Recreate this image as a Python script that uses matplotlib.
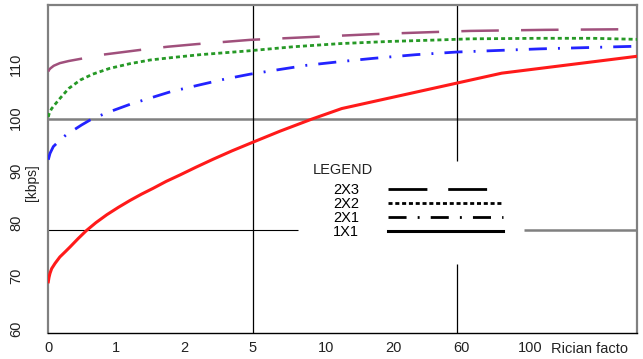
import numpy as np
import matplotlib.pyplot as plt
import matplotlib.transforms as mtransforms
from matplotlib.lines import Line2D

plt.rcParams['font.family'] = ['Liberation Sans', 'DejaVu Sans']
plt.rcParams['lines.scale_dashes'] = False

# x axis is categorical (Rician factor), curves are given in category-index units
rician = ['0', '1', '2', '5', '10', '20', '60', '100']
y_ticks = [60, 70, 80, 90, 100, 110]

x_1x1 = [0, 0.01, 0.025, 0.05, 0.1, 0.17, 0.25, 0.32, 0.44, 0.56, 0.7, 0.86, 1.03, 1.2,
         1.37, 1.54, 1.73, 1.93, 2.17, 2.42, 2.7, 3.0, 3.4, 3.87, 4.31, 6.66, 8.65]
y_1x1 = [68.9, 69.7, 70.5, 71.4, 72.4, 73.6, 74.6, 75.5, 77.1, 78.6, 80.1, 81.6, 83.0, 84.3,
         85.5, 86.6, 87.9, 89.1, 90.6, 92.1, 93.7, 95.3, 97.4, 99.7, 101.7, 108.4, 111.6]

x_2x1 = [0, 0.025, 0.074, 0.17, 0.26, 0.37, 0.49, 0.61, 0.73, 0.86, 1.2, 1.4, 1.8, 2.23,
         2.6, 2.96, 3.4, 3.8, 4.3, 4.77, 5.4, 6.0, 7.22, 8.65]
y_2x1 = [92.0, 93.2, 94.5, 95.7, 96.7, 97.6, 98.6, 99.5, 100.2, 100.9, 102.5, 103.3, 104.9, 106.2,
         107.3, 108.2, 109.1, 109.9, 110.6, 111.2, 111.9, 112.4, 113.0, 113.5]

x_2x2 = [0, 0.01, 0.025, 0.05, 0.1, 0.17, 0.3, 0.47, 0.65, 0.9, 1.2, 1.5, 1.85, 2.23,
         2.92, 3.6, 4.29, 5.0, 5.76, 6.2, 7.22, 8.0, 8.65]
y_2x2 = [100.1, 100.6, 101.1, 101.7, 102.5, 103.6, 105.5, 107.1, 108.2, 109.3, 110.2, 110.9, 111.4, 111.9,
         112.6, 113.4, 114.0, 114.4, 114.7, 114.9, 115.0, 115.0, 114.8]

x_2x3 = [0, 0.01, 0.03, 0.08, 0.17, 0.3, 0.47, 0.8, 1.35, 1.75, 2.18, 2.96, 3.95, 4.8,
         5.7, 6.2, 7.3, 8.35, 8.65]
y_2x3 = [108.7, 109.0, 109.3, 109.8, 110.3, 110.7, 111.1, 111.9, 112.8, 113.4, 113.9, 114.7, 115.3, 115.8,
         116.2, 116.4, 116.6, 116.7, 116.7]

# reference lines of the original figure
ref_hi = 99.7
ref_lo = 78.7

fig = plt.figure(figsize=(6.43, 3.59), dpi=100)
ax = fig.add_axes([0.0751, 0.0724, 0.916, 0.9136])

ax.axhline(ref_hi, color='#808080', lw=1.8, zorder=1)
ax.hlines(ref_lo, 0, 3.67, color='black', lw=0.8, zorder=1)
ax.hlines(ref_lo, 6.99, 8.65, color='#808080', lw=1.8, zorder=1)
ax.axvline(3, color='black', lw=0.9, zorder=1)
ax.vlines(6, 59.2, 72.3, color='black', lw=0.9, zorder=1)
ax.vlines(6, 91.8, 121.3, color='black', lw=0.9, zorder=1)

ax.plot(x_2x3, y_2x3, color='#a0507c', lw=1.8, ls=(0, (27, 16)), zorder=3)
ax.plot(x_2x2, y_2x2, color='#269926', lw=2.0, ls=(0, (2.9, 2.2)), zorder=3)
ax.plot(x_2x1, y_2x1, color='#2323ff', lw=2.0, ls=(0, (13, 8, 1.4, 8)), zorder=3)
ax.plot(x_1x1, y_1x1, color='#ff1a1a', lw=2.2, zorder=3)

ax.set_xlim(0, 8.65)
ax.set_ylim(59.2, 121.3)
ax.set_xticks(range(len(rician)))
ax.set_xticklabels(rician)
ax.set_yticks(y_ticks)
ax.set_yticklabels([str(v) for v in y_ticks], rotation=90, va='center')
ax.tick_params(length=0, labelsize=10.5, labelcolor='#222222')
ax.tick_params(axis='x', pad=6)
ax.tick_params(axis='y', pad=18)

shift = mtransforms.ScaledTranslation(5 / 100, 0, fig.dpi_scale_trans)
for lab in ax.get_xticklabels():
    if len(lab.get_text()) > 1:
        lab.set_transform(lab.get_transform() + shift)

ax.text(7.385, -0.049, 'Rician facto', transform=ax.get_xaxis_transform(),
        ha='left', va='center', fontsize=10.5, color='#222222')

ax.set_ylabel('[kbps]', fontsize=10, color='#222222')
ax.yaxis.set_label_coords(-0.016, 0.46)

for s in ['left', 'top', 'right']:
    ax.spines[s].set_color('#808080')
    ax.spines[s].set_linewidth(1.6)
ax.spines['bottom'].set_color('black')
ax.spines['bottom'].set_linewidth(1.0)

handles = [
    Line2D([], [], color='black', lw=2, ls=(0, (28, 15))),
    Line2D([], [], color='black', lw=2, ls=(0, (2.9, 2.0))),
    Line2D([], [], color='black', lw=2, ls=(0, (13, 8, 1.4, 8))),
    Line2D([], [], color='black', lw=2.2),
]
ax.legend(handles, ['2X3', '2X2', '2X1', '1X1'], loc='upper left',
          bbox_to_anchor=(0.483, 0.457), frameon=False, markerfirst=False,
          handlelength=7.9, handletextpad=2.0, labelspacing=0.0,
          borderpad=0, borderaxespad=0, fontsize=10.5)
ax.text(0.449, 0.497, 'LEGEND', transform=ax.transAxes, ha='left', va='center',
        fontsize=10.5, color='#222222')

fig.savefig('out.png', dpi=100)
